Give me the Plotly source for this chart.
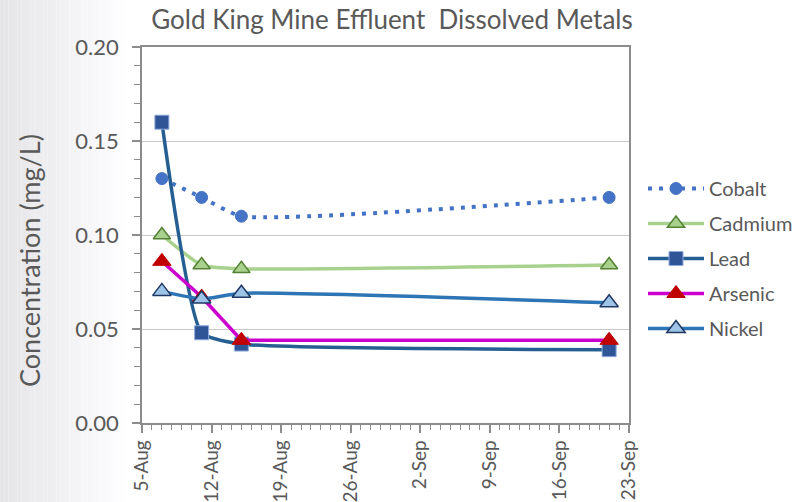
import plotly.graph_objects as go

# Sampling dates and dissolved metal concentrations (mg/L)
dates = ["2015-08-07", "2015-08-11", "2015-08-15", "2015-09-21"]
cobalt = [0.13, 0.12, 0.11, 0.12]
cadmium = [0.10, 0.084, 0.082, 0.084]
lead = [0.16, 0.048, 0.042, 0.039]
arsenic = [0.086, 0.067, 0.044, 0.044]
nickel = [0.070, 0.066, 0.069, 0.064]

tick_dates = ["2015-08-05", "2015-08-12", "2015-08-19", "2015-08-26",
              "2015-09-02", "2015-09-09", "2015-09-16", "2015-09-23"]
tick_labels = ["5-Aug", "12-Aug", "19-Aug", "26-Aug", "2-Sep", "9-Sep", "16-Sep", "23-Sep"]
y_ticks = [0.0, 0.05, 0.10, 0.15, 0.20]
y_labels = ["0.00", "0.05", "0.10", "0.15", "0.20"]

TEXT = "#595959"
FONT = "Lato, 'Open Sans', sans-serif"

W, H = 797, 502
ML, MR, MT, MB = 142, 0, 47, 79
PAPER_W = W - ML - MR          # paper spans to the right edge; legend lives inside it
PLOT_W = 487                   # width of the plotting area itself
PH = H - MT - MB


def px_x(p):
    """pixel column -> paper x"""
    return (p - ML) / PAPER_W


def px_y(p):
    """pixel row -> paper y"""
    return (H - MB - p) / PH


fig = go.Figure()

series = [
    ("Cobalt", cobalt, "spline", dict(color="#4472c4", width=4, dash="4px,7px"),
     dict(symbol="circle", size=12, color="#4472c4", line=dict(color="#4472c4", width=1))),
    ("Cadmium", cadmium, "spline", dict(color="#a9d18e", width=3.5),
     dict(symbol="triangle-up", size=15, color="#a9d18e", line=dict(color="#548235", width=1.5))),
    ("Lead", lead, "spline", dict(color="#255e91", width=3.5),
     dict(symbol="square", size=14, color="#2f5597", line=dict(color="#8faadc", width=1))),
    ("Arsenic", arsenic, "linear", dict(color="#cc00cc", width=3.5),
     dict(symbol="triangle-up", size=16, color="#c00000", line=dict(color="#c00000", width=1))),
    ("Nickel", nickel, "spline", dict(color="#2e75b6", width=3.5),
     dict(symbol="triangle-up", size=16, color="#9dc3e6", line=dict(color="#203864", width=1.5))),
]

for name, vals, shape, line, marker in series:
    line_kw = dict(shape=shape, **line)
    if shape == "spline":
        line_kw["smoothing"] = 0.5
    fig.add_trace(go.Scatter(
        x=dates, y=vals, name=name, mode="lines+markers",
        legendgroup=name, line=line_kw, marker=marker,
    ))

# soft grey wash along the left edge of the slide
shapes = []
steps = 30
band = 130
for i in range(steps):
    x0 = i * band / steps
    x1 = (i + 1) * band / steps
    t = i / (steps - 1)
    g = int(229 + (255 - 229) * t)
    shapes.append(dict(
        type="rect", xref="paper", yref="paper", layer="below",
        x0=px_x(x0), x1=px_x(x1), y0=px_y(H), y1=px_y(0),
        fillcolor=f"rgb({g},{g},{min(255, g + 2)})", line=dict(width=0),
    ))

fig.update_layout(
    width=W, height=H,
    margin=dict(l=ML, r=MR, t=MT, b=MB, autoexpand=False),
    paper_bgcolor="white",
    plot_bgcolor="white",
    shapes=shapes,
    font=dict(family=FONT, color=TEXT),
    title=dict(text="Gold King Mine Effluent  Dissolved Metals",
               x=392 / W, xanchor="center", y=1 - 20 / H, yanchor="middle",
               font=dict(size=26, color=TEXT, family=FONT)),
    annotations=[dict(
        text="Concentration (mg/L)", textangle=-90, showarrow=False,
        xref="paper", yref="paper", x=px_x(29), y=px_y(261),
        xanchor="center", yanchor="middle",
        font=dict(size=27, color=TEXT, family=FONT),
    )],
    xaxis=dict(
        type="date", range=["2015-08-05", "2015-09-23"], domain=[0, PLOT_W / PAPER_W],
        tickvals=tick_dates, ticktext=tick_labels, tickangle=-90,
        tickfont=dict(size=19, color=TEXT), automargin=False,
        showgrid=False, zeroline=False,
        showline=True, linecolor="#8c8c8c", linewidth=1.5, mirror=True,
        ticks="outside", ticklen=8, tickcolor="#8c8c8c", tickwidth=1.5,
        minor=dict(dtick=86400000, tick0="2015-08-05", ticks="outside", ticklen=5,
                   tickcolor="#8c8c8c", tickwidth=1),
    ),
    yaxis=dict(
        range=[0, 0.20], tickvals=y_ticks, ticktext=y_labels,
        tickfont=dict(size=22, color=TEXT), automargin=False, ticklabelstandoff=9,
        showgrid=True, gridcolor="#c8c8c8", gridwidth=1.2, zeroline=False,
        showline=True, linecolor="#8c8c8c", linewidth=1.5, mirror=True,
        ticks="outside", ticklen=8, tickcolor="#8c8c8c", tickwidth=1.5,
        minor=dict(dtick=0.01, ticks="outside", ticklen=6, tickcolor="#8c8c8c", tickwidth=1),
    ),
    legend=dict(
        x=px_x(643), xanchor="left", y=px_y(169), yanchor="top",
        font=dict(size=20, color=TEXT), itemwidth=56,
        bgcolor="rgba(0,0,0,0)", traceorder="grouped", tracegroupgap=6,
    ),
    showlegend=True,
)

fig.write_html("out.html")
